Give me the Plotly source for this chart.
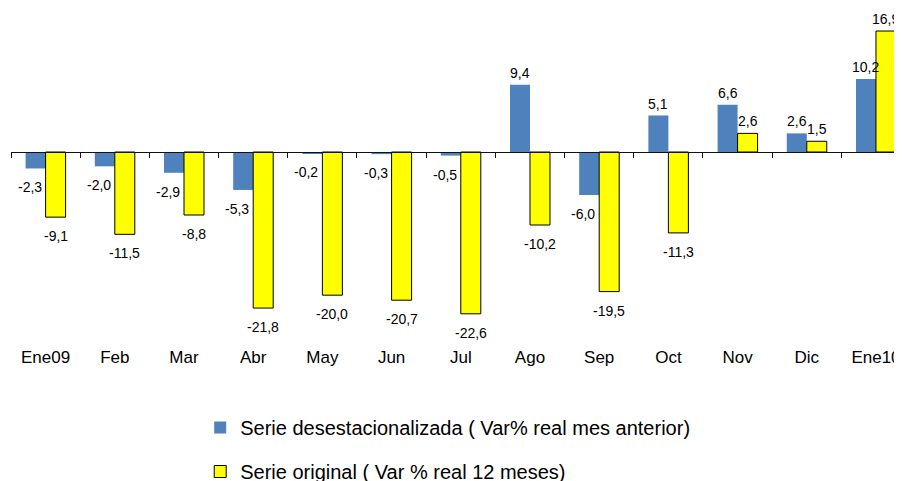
import plotly.graph_objects as go

categories = ["Ene09", "Feb", "Mar", "Abr", "May", "Jun", "Jul", "Ago", "Sep", "Oct", "Nov", "Dic", "Ene10"]
desest = [-2.3, -2.0, -2.9, -5.3, -0.2, -0.3, -0.5, 9.4, -6.0, 5.1, 6.6, 2.6, 10.2]
original = [-9.1, -11.5, -8.8, -21.8, -20.0, -20.7, -22.6, -10.2, -19.5, -11.3, 2.6, 1.5, 16.9]
series_names = ["Serie desestacionalizada ( Var% real mes anterior)", "Serie original ( Var % real 12 meses)"]


def fmt(v):
    return f"{v:.1f}".replace(".", ",")


FONT = "Liberation Sans, Arial, sans-serif"
ymin, ymax = -26.96, 18.44
zero_pos = (0 - ymin) / (ymax - ymin)
xrange_ = [-0.5, 12.376]
BARGAP = 0.422
W, H = 894, 473  # page adds an 8px body margin
ML, MR, MT, MB = 3, 0, 12, 136
plot_w = W - ML - MR
cat_px = plot_w / (xrange_[1] - xrange_[0])
half_bar_px = cat_px * (1 - BARGAP) / 4  # center offset of each bar in a pair

fig = go.Figure()
fig.add_trace(go.Bar(
    x=categories, y=desest, name=series_names[0], legendgroup="a",
    marker=dict(color="#4F81BD", line=dict(width=0)),
))
fig.add_trace(go.Bar(
    x=categories, y=original, name=series_names[1], legendgroup="b",
    marker=dict(color="#FFFF00", line=dict(width=1, color="black")),
))
# helper trace so the zero-line axis (with boundary ticks) is drawn
fig.add_trace(go.Scatter(x=categories, y=[None] * len(categories), xaxis="x2",
                         showlegend=False, hoverinfo="skip", mode="markers"))

annotations = []
for vals, side in ((desest, -1), (original, 1)):
    for c, v in zip(categories, vals):
        neg = v < 0
        xs = side * half_bar_px
        if side == -1 and neg:
            xs -= 6
        annotations.append(dict(
            x=c, y=v, xref="x", yref="y", text=fmt(v), showarrow=False,
            xshift=xs, yshift=(-9 if neg else 2),
            yanchor=("top" if neg else "bottom"), xanchor="center",
            font=dict(size=14, color="black", family=FONT),
        ))

fig.update_layout(
    width=W, height=H,
    margin=dict(l=ML, r=MR, t=MT, b=MB, autoexpand=False),
    paper_bgcolor="white", plot_bgcolor="white",
    barmode="group", bargap=BARGAP, bargroupgap=0,
    font=dict(family=FONT, color="black"),
    annotations=annotations,
    xaxis=dict(
        type="category", range=xrange_, domain=[0, 1], anchor="y",
        showline=False, ticks="", showgrid=False, zeroline=False, automargin=False,
        tickfont=dict(size=17, color="black", family=FONT),
    ),
    xaxis2=dict(
        type="category", range=xrange_, domain=[0, 1], anchor="free", position=zero_pos,
        overlaying="x", categoryorder="array", categoryarray=categories,
        showline=True, linecolor="#111111", linewidth=1, automargin=False,
        ticks="outside", tickson="boundaries", ticklen=5, tickcolor="#111111",
        showticklabels=False, showgrid=False, zeroline=False,
    ),
    yaxis=dict(range=[ymin, ymax], domain=[0, 1], visible=False, showgrid=False,
               zeroline=False, automargin=False),
    legend=dict(
        orientation="v", x=0.215, xref="container", xanchor="left",
        y=0.1543, yref="container", yanchor="top",
        font=dict(size=20, color="black", family=FONT),
        tracegroupgap=15, bgcolor="rgba(0,0,0,0)",
    ),
    showlegend=True,
)

fig.write_html("out.html")
